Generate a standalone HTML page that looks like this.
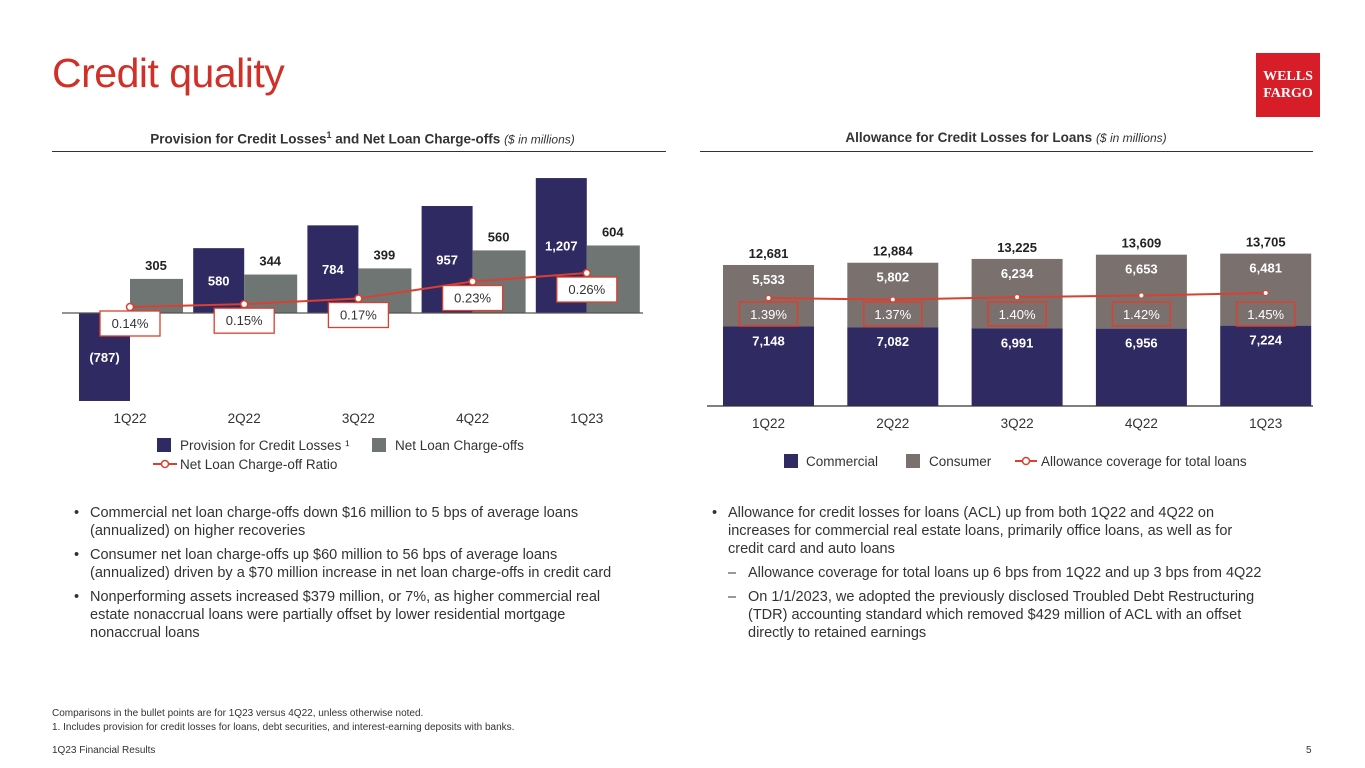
<!DOCTYPE html>
<html><head><meta charset="utf-8"><style>
body{margin:0;width:1365px;height:768px;background:#fff;font-family:"Liberation Sans",sans-serif;position:relative;overflow:hidden;color:#333}
.abs{position:absolute}
.title{left:52px;top:50px;font-size:41px;color:#d03027;letter-spacing:-0.5px}
.logo{left:1256px;top:53px;width:64px;height:64px;background:#d71e28;color:#fff;font-family:"Liberation Serif",serif;font-weight:bold;font-size:14px;line-height:17px;text-align:center;display:flex;align-items:center;justify-content:center}
.ch{font-size:13.5px;font-weight:bold;color:#333;text-align:center}
.ch i{font-weight:normal;font-size:12px}
.rule{height:1px;background:#333}
.bul{font-size:14.5px;line-height:18px;color:#333}
.bul div{position:relative;padding-left:18px;margin-bottom:6px}
.bul div.b:before{content:"•";position:absolute;left:2px}
.bul div.d{padding-left:38px}
.bul div.d:before{content:"–";position:absolute;left:18px}
.small{font-size:10px;color:#333}
</style></head><body>
<div class="abs title">Credit quality</div>
<div class="abs logo">WELLS<br>FARGO</div>

<div class="abs ch" style="left:60px;top:130px;width:605px">Provision for Credit Losses<sup style="font-size:9px">1</sup> and Net Loan Charge-offs <i>($ in millions)</i></div>
<div class="abs rule" style="left:52px;top:151px;width:614px"></div>
<div class="abs ch" style="left:700px;top:130px;width:612px">Allowance for Credit Losses for Loans <i>($ in millions)</i></div>
<div class="abs rule" style="left:700px;top:151px;width:613px"></div>

<svg class="abs" style="left:0;top:0" width="1365" height="768" id="charts" font-family="Liberation Sans, sans-serif"></svg>

<div class="abs bul" style="left:72px;top:504px;width:560px">
<div class="b">Commercial net loan charge-offs down $16 million to 5 bps of average loans (annualized) on higher recoveries</div>
<div class="b">Consumer net loan charge-offs up $60 million to 56 bps of average loans (annualized) driven by a $70 million increase in net loan charge-offs in credit card</div>
<div class="b">Nonperforming assets increased $379 million, or 7%, as higher commercial real estate nonaccrual loans were partially offset by lower residential mortgage nonaccrual loans</div>
</div>
<div class="abs bul" style="left:710px;top:504px;width:560px">
<div class="b">Allowance for credit losses for loans (ACL) up from both 1Q22 and 4Q22 on increases for commercial real estate loans, primarily office loans, as well as for credit card and auto loans</div>
<div class="d">Allowance coverage for total loans up 6 bps from 1Q22 and up 3 bps from 4Q22</div>
<div class="d">On 1/1/2023, we adopted the previously disclosed Troubled Debt Restructuring (TDR) accounting standard which removed $429 million of ACL with an offset directly to retained earnings</div>
</div>
<div class="abs small" style="left:52px;top:708px">Comparisons in the bullet points are for 1Q23 versus 4Q22, unless otherwise noted.</div>
<div class="abs small" style="left:52px;top:722px">1. Includes provision for credit losses for loans, debt securities, and interest-earning deposits with banks.</div>
<div class="abs small" style="left:52px;top:745px">1Q23 Financial Results</div>
<div class="abs small" style="left:1306px;top:745px">5</div>

<script>
const cats=["1Q22","2Q22","3Q22","4Q22","1Q23"];
const provision=[-787,580,784,957,1207];
const chargeoffs=[305,344,399,560,604];
const ncoRatio=[0.14,0.15,0.17,0.23,0.26];
const provLabels=["(787)","580","784","957","1,207"];
const coLabels=["305","344","399","560","604"];
const commercial=[7148,7082,6991,6956,7224];
const consumer=[5533,5802,6234,6653,6481];
const coverage=[1.39,1.37,1.40,1.42,1.45];
const commLabels=["7,148","7,082","6,991","6,956","7,224"];
const consLabels=["5,533","5,802","6,234","6,653","6,481"];
const totalLabels=["12,681","12,884","13,225","13,609","13,705"];

const svg=document.getElementById('charts');
const NS="http://www.w3.org/2000/svg";
function mk(tag,attrs,txt){const e=document.createElementNS(NS,tag);for(const k in attrs)e.setAttribute(k,attrs[k]);if(txt!==undefined)e.textContent=txt;svg.appendChild(e);return e;}
const NAVY="#302a63",GRAY="#6f7572",RED="#d9402f",CGRAY="#7a716f";

const lx=i=>130+i*114.2;
const ly=v=>313-v*0.1118;
const lr=r=>307-(r-0.14)*283;
cats.forEach((c,i)=>{
  const cx=lx(i);
  const p=provision[i];
  let e=mk('rect',{x:cx-51,y:Math.min(ly(p),ly(0)),width:51,height:Math.abs(ly(p)-ly(0)),fill:NAVY});
  
  e=mk('rect',{x:cx,y:ly(chargeoffs[i]),width:53,height:ly(0)-ly(chargeoffs[i]),fill:GRAY});
  
  e=mk('text',{x:cx-25.5,y:(ly(p)+ly(0))/2+5,'text-anchor':'middle',fill:'#fff','font-size':13,'font-weight':'bold'},provLabels[i]);
  
  e=mk('text',{x:cx+26,y:ly(chargeoffs[i])-9,'text-anchor':'middle',fill:'#222','font-size':13,'font-weight':'bold'},coLabels[i]);
  
  e=mk('text',{x:cx,y:423,'text-anchor':'middle',fill:'#333','font-size':13.5},c);
  
});
let ax=mk('line',{x1:62,x2:643,y1:313,y2:313,stroke:'#555','stroke-width':1.2});

let pl=mk('polyline',{points:ncoRatio.map((r,i)=>lx(i)+','+lr(r)).join(' '),fill:'none',stroke:RED,'stroke-width':2});

ncoRatio.forEach((r,i)=>{
  let e=mk('circle',{cx:lx(i),cy:lr(r),r:3.5,fill:'#fff',stroke:RED,'stroke-width':1.5});
  
  e=mk('rect',{x:lx(i)-30,y:lr(r)+4,width:60,height:25,fill:'#fff',stroke:RED,'stroke-width':1.3});
  
  e=mk('text',{x:lx(i),y:lr(r)+21,'text-anchor':'middle',fill:'#333','font-size':13},r.toFixed(2)+'%');
  
});
let lg=mk('rect',{x:157,y:438,width:14,height:14,fill:NAVY});
lg=mk('text',{x:180,y:450,fill:'#333','font-size':13.5},'Provision for Credit Losses ¹');
lg=mk('rect',{x:372,y:438,width:14,height:14,fill:GRAY});
lg=mk('text',{x:395,y:450,fill:'#333','font-size':13.5},'Net Loan Charge-offs');
lg=mk('line',{x1:153,x2:177,y1:464,y2:464,stroke:RED,'stroke-width':2});
lg=mk('circle',{cx:165,cy:464,r:3.5,fill:'#fff',stroke:RED,'stroke-width':1.5});
lg=mk('text',{x:180,y:469,fill:'#333','font-size':13.5},'Net Loan Charge-off Ratio');

const rx=i=>768.5+i*124.3;
const ry=v=>406-v*0.01112;
const rr=r=>298-(r-1.39)*83;
cats.forEach((c,i)=>{
  const cx=rx(i),tot=commercial[i]+consumer[i];
  let e=mk('rect',{x:cx-45.5,y:ry(tot),width:91,height:ry(commercial[i])-ry(tot),fill:CGRAY});
  
  e=mk('rect',{x:cx-45.5,y:ry(commercial[i]),width:91,height:ry(0)-ry(commercial[i]),fill:NAVY});
  
  e=mk('text',{x:cx,y:ry(commercial[i])+19,'text-anchor':'middle',fill:'#fff','font-size':13,'font-weight':'bold'},commLabels[i]);
  
  e=mk('text',{x:cx,y:ry(tot)+19,'text-anchor':'middle',fill:'#fff','font-size':13,'font-weight':'bold'},consLabels[i]);
  
  e=mk('text',{x:cx,y:ry(tot)-7,'text-anchor':'middle',fill:'#222','font-size':13,'font-weight':'bold'},totalLabels[i]);
  
  e=mk('text',{x:cx,y:428,'text-anchor':'middle',fill:'#333','font-size':13.5},c);
  
});
ax=mk('line',{x1:707,x2:1313,y1:406,y2:406,stroke:'#333','stroke-width':1.2});

pl=mk('polyline',{points:coverage.map((r,i)=>rx(i)+','+rr(r)).join(' '),fill:'none',stroke:RED,'stroke-width':2});

coverage.forEach((r,i)=>{
  let e=mk('circle',{cx:rx(i),cy:rr(r),r:2.5,fill:'#fff',stroke:RED,'stroke-width':1});
  
  e=mk('rect',{x:rx(i)-29,y:302,width:58,height:24,fill:'none',stroke:RED,'stroke-width':1.5});
  
  e=mk('text',{x:rx(i),y:319,'text-anchor':'middle',fill:'#fff','font-size':13},r.toFixed(2)+'%');
  
});
lg=mk('rect',{x:784,y:454,width:14,height:14,fill:NAVY});
lg=mk('text',{x:806,y:466,fill:'#333','font-size':13.5},'Commercial');
lg=mk('rect',{x:906,y:454,width:14,height:14,fill:CGRAY});
lg=mk('text',{x:929,y:466,fill:'#333','font-size':13.5},'Consumer');
lg=mk('line',{x1:1015,x2:1037,y1:461,y2:461,stroke:RED,'stroke-width':2});
lg=mk('circle',{cx:1026,cy:461,r:3.5,fill:'#fff',stroke:RED,'stroke-width':1.5});
lg=mk('text',{x:1041,y:466,fill:'#333','font-size':13.5},'Allowance coverage for total loans');
</script>
</body></html>
